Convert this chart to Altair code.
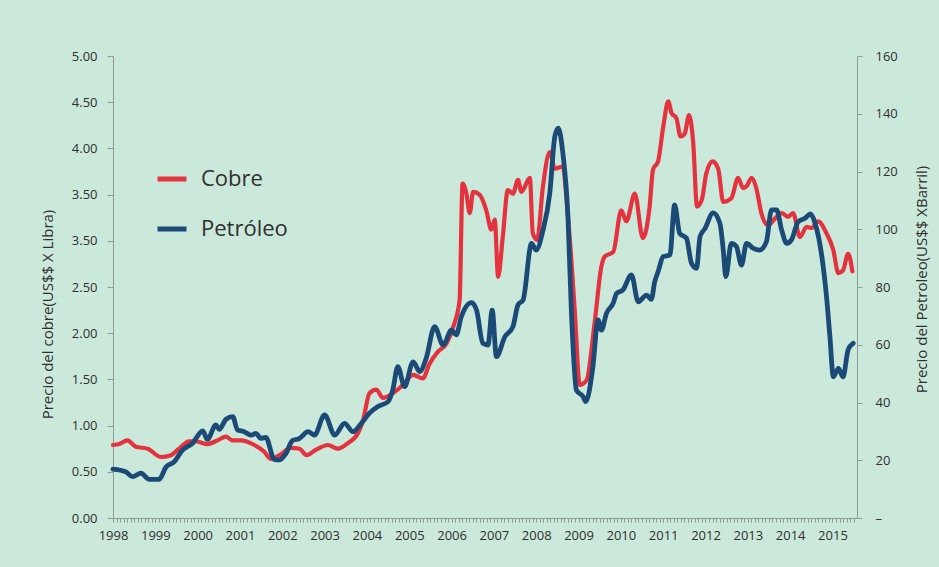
import altair as alt
import pandas as pd

# Precio mensual del cobre (US$ por libra), fecha en años decimales
cobre_fecha = [
    1998.00, 1998.15, 1998.34, 1998.54, 1998.82, 1999.13, 1999.37, 1999.56, 1999.80, 1999.96,
    2000.23, 2000.47, 2000.67, 2000.82, 2001.02, 2001.34, 2001.57, 2001.73, 2001.97, 2002.20,
    2002.41, 2002.57, 2002.80, 2003.08, 2003.31, 2003.55, 2003.79, 2003.91, 2004.06, 2004.22,
    2004.38, 2004.61, 2004.85, 2005.09, 2005.32, 2005.48, 2005.68, 2005.88, 2006.07, 2006.19,
    2006.26, 2006.35, 2006.43, 2006.51, 2006.66, 2006.82, 2006.94, 2007.02, 2007.10, 2007.21,
    2007.33, 2007.45, 2007.57, 2007.65, 2007.85, 2007.92, 2008.02, 2008.16, 2008.32, 2008.44,
    2008.60, 2008.79, 2008.91, 2009.03, 2009.19, 2009.38, 2009.54, 2009.62, 2009.82, 2010.01,
    2010.13, 2010.33, 2010.52, 2010.68, 2010.76, 2010.88, 2011.00, 2011.12, 2011.20, 2011.31,
    2011.41, 2011.51, 2011.61, 2011.71, 2011.80, 2011.91, 2012.02, 2012.17, 2012.30, 2012.42,
    2012.61, 2012.77, 2012.89, 2012.97, 2013.09, 2013.20, 2013.32, 2013.48, 2013.64, 2013.80,
    2013.95, 2014.07, 2014.23, 2014.39, 2014.51, 2014.66, 2014.86, 2015.02, 2015.14, 2015.25,
    2015.37, 2015.47,
]
cobre_precio = [
    0.79, 0.80, 0.84, 0.77, 0.75, 0.66, 0.68, 0.75, 0.83, 0.83,
    0.80, 0.84, 0.88, 0.84, 0.84, 0.79, 0.72, 0.64, 0.69, 0.76,
    0.75, 0.68, 0.74, 0.79, 0.75, 0.81, 0.92, 1.06, 1.35, 1.39,
    1.30, 1.35, 1.44, 1.55, 1.51, 1.67, 1.80, 1.89, 2.11, 2.36,
    3.62, 3.51, 3.30, 3.53, 3.50, 3.33, 3.12, 3.23, 2.61, 3.04,
    3.55, 3.51, 3.66, 3.53, 3.68, 3.08, 3.01, 3.59, 3.96, 3.78,
    3.80, 3.04, 2.25, 1.44, 1.49, 2.11, 2.72, 2.83, 2.88, 3.33,
    3.21, 3.51, 3.03, 3.37, 3.77, 3.86, 4.23, 4.51, 4.38, 4.33,
    4.13, 4.16, 4.36, 4.06, 3.37, 3.44, 3.73, 3.86, 3.78, 3.42,
    3.46, 3.68, 3.57, 3.59, 3.68, 3.57, 3.30, 3.17, 3.24, 3.30,
    3.26, 3.30, 3.04, 3.15, 3.14, 3.21, 3.08, 2.90, 2.65, 2.68,
    2.86, 2.67,
]

# Precio mensual del petróleo (US$ por barril)
petroleo_fecha = [
    1998.00, 1998.30, 1998.46, 1998.66, 1998.86, 1999.09, 1999.25, 1999.45, 1999.64, 1999.88,
    2000.12, 2000.23, 2000.43, 2000.51, 2000.67, 2000.83, 2000.94, 2001.10, 2001.26, 2001.38,
    2001.49, 2001.61, 2001.81, 2001.93, 2002.08, 2002.24, 2002.40, 2002.61, 2002.76, 2003.00,
    2003.24, 2003.47, 2003.67, 2003.87, 2004.06, 2004.26, 2004.50, 2004.61, 2004.73, 2004.89,
    2005.09, 2005.25, 2005.40, 2005.60, 2005.80, 2006.00, 2006.11, 2006.23, 2006.47, 2006.59,
    2006.74, 2006.86, 2006.96, 2007.06, 2007.26, 2007.45, 2007.57, 2007.69, 2007.89, 2008.00,
    2008.16, 2008.32, 2008.44, 2008.52, 2008.63, 2008.75, 2008.83, 2008.95, 2009.11, 2009.17,
    2009.34, 2009.46, 2009.54, 2009.66, 2009.82, 2009.90, 2010.05, 2010.25, 2010.41, 2010.61,
    2010.72, 2010.80, 2010.88, 2011.00, 2011.16, 2011.27, 2011.39, 2011.55, 2011.67, 2011.79,
    2011.87, 2011.99, 2012.18, 2012.34, 2012.42, 2012.48, 2012.61, 2012.73, 2012.85, 2012.97,
    2013.13, 2013.28, 2013.44, 2013.56, 2013.68, 2013.80, 2013.92, 2014.03, 2014.19, 2014.35,
    2014.48, 2014.59, 2014.75, 2014.86, 2014.94, 2015.02, 2015.14, 2015.25, 2015.37, 2015.49,
]
petroleo_precio = [
    16.9, 16.0, 14.3, 15.5, 13.4, 13.4, 17.6, 19.5, 23.5, 25.9,
    30.2, 27.2, 32.2, 30.7, 34.2, 35.1, 30.5, 29.9, 28.7, 29.3,
    27.6, 27.9, 20.3, 20.1, 22.2, 26.8, 27.5, 29.9, 28.7, 35.7,
    28.7, 32.8, 29.9, 32.8, 36.3, 38.6, 40.3, 44.3, 52.4, 45.5,
    54.1, 50.7, 55.3, 66.3, 59.9, 65.1, 63.4, 69.7, 74.6, 72.0,
    60.5, 59.9, 72.0, 55.9, 62.8, 66.3, 73.8, 75.5, 95.1, 92.8,
    99.7, 112.4, 132.1, 135.0, 126.3, 104.3, 72.0, 44.3, 42.0, 40.3,
    52.4, 68.6, 65.1, 70.9, 74.4, 77.8, 79.0, 84.2, 74.9, 77.2,
    75.7, 81.8, 85.3, 90.5, 91.1, 108.4, 98.6, 96.9, 88.2, 86.5,
    97.4, 100.3, 105.7, 102.1, 92.8, 83.6, 95.1, 94.0, 87.6, 95.1,
    93.4, 92.8, 95.7, 106.7, 106.7, 99.7, 95.1, 96.3, 102.6, 103.8,
    105.3, 102.1, 90.5, 76.6, 62.8, 48.9, 51.8, 48.9, 58.2, 60.5,
]

series = ["Cobre", "Petróleo"]
colores = ["#e5323f", "#1c4a76"]

# Etiquetas de los ejes
etiquetas_cobre = ["0.00", "0.50", "1.00", "1.50", "2.00", "2.50",
                   "3.50", "3.50", "4.00", "4.50", "5.00"]
etiquetas_petroleo = ["–", "20", "40", "60", "80", "100", "120", "140", "160"]
anio_inicio, anio_fin = 1998, 2015.58
marcas_mes = [anio_inicio + m / 12 for m in range(0, 212)]

FUENTE = "Open Sans"
TEXTO = "#2f2f2f"
EJE = "#8e9b95"
FONDO = "#cbe9da"

df = pd.concat([
    pd.DataFrame({"fecha": cobre_fecha, "valor": cobre_precio, "serie": series[0]}),
    pd.DataFrame({"fecha": petroleo_fecha, "valor": petroleo_precio, "serie": series[1]}),
])

eje_x = alt.X(
    "fecha:Q",
    scale=alt.Scale(domain=[anio_inicio, anio_fin], nice=False, zero=False),
    axis=alt.Axis(
        values=marcas_mes,
        labelExpr="abs(datum.value - round(datum.value)) < 0.01 ? format(round(datum.value), 'd') : ''",
        labelOverlap=False, labelFlush=False, grid=False, title=None,
        tickSize=4, tickColor=EJE, domainColor=EJE, labelPadding=7,
        labelFont=FUENTE, labelFontSize=13, labelColor=TEXTO,
    ),
)

color = alt.Color(
    "serie:N",
    scale=alt.Scale(domain=series, range=colores),
    legend=alt.Legend(
        title=None, orient="none", legendX=42, legendY=106, padding=0,
        symbolType="stroke", symbolSize=840, symbolStrokeWidth=5,
        labelFont=FUENTE, labelFontSize=22, labelColor=TEXTO,
        labelOffset=12, rowPadding=22,
    ),
)

js_cobre = "[" + ",".join("'%s'" % e for e in etiquetas_cobre) + "]"
js_petroleo = "[" + ",".join("'%s'" % e for e in etiquetas_petroleo) + "]"

linea_cobre = alt.Chart(df).transform_filter(
    alt.datum.serie == series[0]
).mark_line(strokeWidth=4.2, interpolate="monotone", strokeCap="round", strokeJoin="round").encode(
    x=eje_x,
    y=alt.Y(
        "valor:Q",
        scale=alt.Scale(domain=[0, 5], nice=False),
        axis=alt.Axis(
            orient="left", values=[i * 0.5 for i in range(len(etiquetas_cobre))],
            labelExpr=js_cobre + "[round(datum.value * 2)]",
            grid=False, tickSize=6, tickColor=EJE, domainColor=EJE, labelPadding=10,
            labelFont=FUENTE, labelFontSize=13, labelColor=TEXTO,
            title="Precio del cobre(US$$ X Libra)", titleFont=FUENTE, titleFontSize=15,
            titleFontWeight="normal", titleColor=TEXTO, titleAngle=270,
            titleX=-66, titleY=258, titleBaseline="middle", titleAlign="center",
        ),
    ),
    color=color,
)

linea_petroleo = alt.Chart(df).transform_filter(
    alt.datum.serie == series[1]
).mark_line(strokeWidth=4.8, interpolate="monotone", strokeCap="round", strokeJoin="round").encode(
    x=eje_x,
    y=alt.Y(
        "valor:Q",
        scale=alt.Scale(domain=[0, 160], nice=False),
        axis=alt.Axis(
            orient="right", values=[i * 20 for i in range(len(etiquetas_petroleo))],
            labelExpr=js_petroleo + "[round(datum.value / 20)]",
            grid=False, tickSize=5, tickColor=EJE, domainColor=EJE, labelPadding=13,
            labelFont=FUENTE, labelFontSize=13, labelColor=TEXTO,
            title="Precio del Petroleo(US$$ XBarril)", titleFont=FUENTE, titleFontSize=15,
            titleFontWeight="normal", titleColor=TEXTO, titleAngle=270,
            titleX=64, titleY=223, titleBaseline="middle", titleAlign="center",
        ),
    ),
    color=color,
)

chart = alt.layer(linea_cobre, linea_petroleo).resolve_scale(
    y="independent"
).properties(
    width=744, height=462,
    autosize=alt.AutoSizeParams(type="none"),
    padding={"left": 113, "top": 56, "right": 82, "bottom": 49},
    background=FONDO,
).configure_view(stroke=None)

chart.save("out.html", embed_options={"renderer": "svg", "actions": False})
